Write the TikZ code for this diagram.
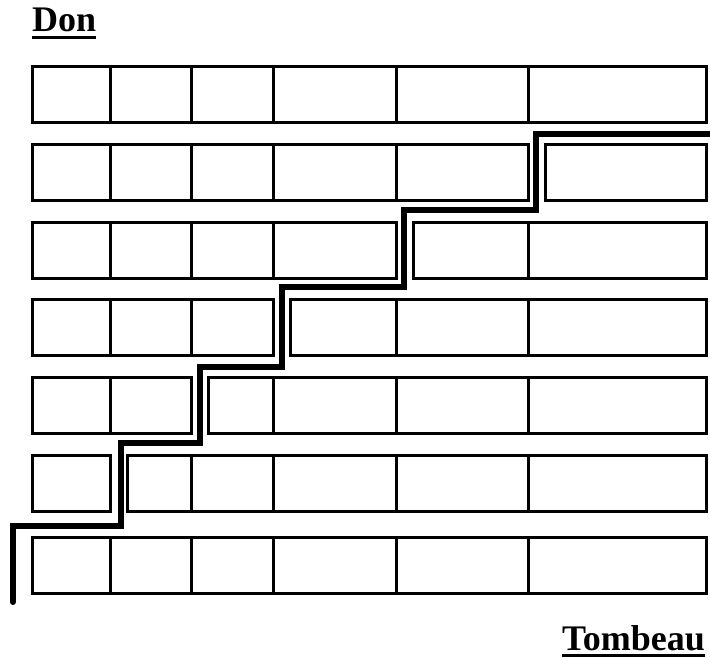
\documentclass[tikz,border=0pt]{standalone}
\usepackage{fontspec}
\setmainfont{Liberation Serif}
\usetikzlibrary{positioning}

\begin{document}
\begin{tikzpicture}[
  x=1pt, y=-1pt,
  brick/.style={draw=black, line width=3pt},
  stair/.style={draw=black, line width=6pt, line cap=round, line join=miter},
  tag/.style={font=\fontsize{36}{40}\selectfont\bfseries, inner sep=0pt},
  uline/.style={draw=black, line width=3pt}
]
  \useasboundingbox (0,0) rectangle (710,658);

  % full rows (top and bottom)
  \foreach \yt in {67,537} {
    \draw[brick] (32,\yt) rectangle (706,\yt+56);
    \foreach \x in {110,191,273,396,528}
      \draw[brick] (\x,\yt) -- (\x,\yt+56);
  }

  % rows split where the stair passes
  \foreach \yt/\g in {145/528, 222/396, 299/273, 377/191, 455/110} {
    \draw[brick] (32,\yt) rectangle (\g,\yt+56);
    \draw[brick] (\g+17,\yt) rectangle (706,\yt+56);
    \foreach \x in {110,191,273,396,528} {
      \ifnum\x=\g\else
        \draw[brick] (\x,\yt) -- (\x,\yt+56);
      \fi
    }
  }

  % the stair
  \coordinate (start) at (13,602);
  \coordinate (exit) at (712,134);
  \draw[stair] (start) |- (121,526) |- (200,443) |- (282,367)
    |- (404,287) |- (536,210) |- (exit);

  % labels
  \node[tag, anchor=base west] (don) at (32,32) {Don};
  \node[tag, anchor=base east] (tombeau) at (705,650) {Tombeau};
  \draw[uline] ([yshift=-4.5pt]don.south west) -- ([yshift=-4.5pt]don.south east);
  \draw[uline] ([yshift=-4.5pt]tombeau.south west) -- ([yshift=-4.5pt]tombeau.south east);
\end{tikzpicture}
\end{document}
